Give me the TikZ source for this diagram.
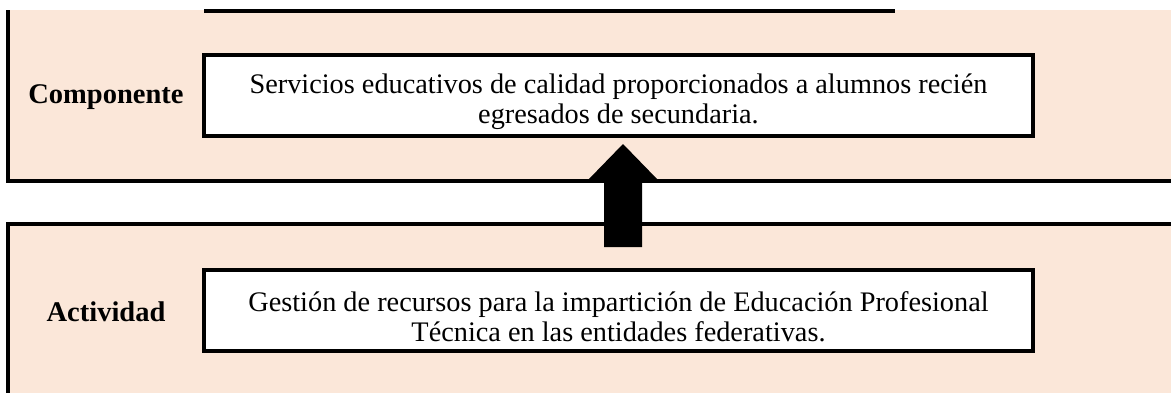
\documentclass[tikz,border=0pt]{standalone}
\usepackage{fontspec}
\setmainfont{Liberation Serif}
\definecolor{peach}{HTML}{FBE7D9}
\begin{document}
\begin{tikzpicture}[x=1pt,y=-1pt,
  panelline/.style={line width=3.2pt},
  inbox/.style={draw,line width=3.2pt,fill=white,minimum width=829pt,minimum height=81pt,inner sep=0pt},
  boxtext/.style={align=center,inner sep=0pt,yshift=-6pt,font=\fontsize{28.3}{30}\selectfont},
  lab/.style={font=\fontsize{28.5}{30}\selectfont\bfseries}]
\useasboundingbox (0,0) rectangle (1171,392);
% top panel
\fill[peach] (8,10) rectangle (1172,181);
\draw[panelline] (8,10) -- (8,181) -- (1172,181);
\draw[panelline] (204,11) -- (895,11);
% bottom panel
\fill[peach] (8,224) rectangle (1172,393);
\draw[panelline] (8,393) -- (8,224) -- (1172,224);
% labels and boxes
\node[lab] (lc) at (106,97) {Componente};
\node[inbox] (comp) at (618.5,95.5) {};
\node[boxtext] (comptext) at (comp.center) {Servicios educativos de calidad proporcionados a alumnos recién\\egresados de secundaria.};
\node[lab] (la) at (106,312) {Actividad};
\node[inbox] (act) at (618.5,310.5) {};
\node[boxtext] (acttext) at (act.center) {Gestión de recursos para la impartición de Educación Profesional\\Técnica en las entidades federativas.};
% arrow
\coordinate (ab) at (623,247);
\coordinate (ar) at (623,144);
\fill (ab) ++(-19,0) -- ++(38,0) -- (642,180) -- (658,180) -- (ar) -- (588,180) -- (604,180) -- cycle;
\end{tikzpicture}
\end{document}
